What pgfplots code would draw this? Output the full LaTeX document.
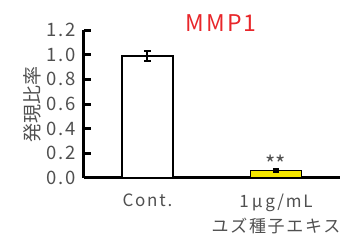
\documentclass[border=0pt]{standalone}
\usepackage{pgfplots}
\pgfplotsset{compat=1.18}
\usepackage{fontspec}
\setmainfont{Noto Sans CJK JP}
\newfontfamily\lat[LetterSpace=10]{Noto Sans CJK JP}
\definecolor{txt}{HTML}{505050}
\definecolor{ttl}{HTML}{E8262A}
\definecolor{yel}{HTML}{F5E800}
\begin{document}
\begin{tikzpicture}
\path[use as bounding box] (0pt,0pt) rectangle (341pt,244pt);
\begin{axis}[at={(84pt,66pt)}, anchor=south west, scale only axis,
  width=256pt, height=148pt,
  xmin=-0.494, xmax=1.498, ymin=0, ymax=1.2,
  axis x line=bottom, axis y line=left,
  axis line style={line width=3pt, -},
  ytick={0,0.2,0.4,0.6,0.8,1.0,1.2},
  yticklabel style={/pgf/number format/.cd, fixed, fixed zerofill, precision=1, /tikz/.cd, font=\lat\fontsize{18.5}{18}\selectfont, text=txt, xshift=-5pt},
  /pgf/number format/assume math mode=true,
  ytick style={line width=3pt, black},
  tick align=inside, major tick length=7pt,
  xtick={0,1}, xticklabels={Cont., {1\,μ\,g/mL\\ユズ種子エキス}},
  xticklabel style={align=center, font=\lat\fontsize{17}{25}\selectfont, text=txt, yshift=-12pt},
  x tick style={draw=none},
  ylabel={発現比率}, ylabel style={font=\fontsize{19}{19}\selectfont, text=txt, yshift=-2pt},
  clip=false,
]
\addplot[ybar, bar shift=0pt, bar width=0.397, fill=white, draw=black, line width=2.5pt,
  error bars/.cd, y dir=both, y explicit, error bar style={line width=2pt, black},
  error mark options={rotate=90, mark size=3.5pt, line width=2pt}]
  coordinates {(0,0.99) +- (0,0.04)};
\addplot[ybar, bar shift=0pt, bar width=0.397, fill=yel, draw=black, line width=1.5pt,
  error bars/.cd, y dir=both, y explicit, error bar style={line width=4pt, black},
  error mark options={rotate=90, mark size=3pt, line width=2pt}]
  coordinates {(1,0.06) +- (0,0.01)};
\node[font=\fontsize{22}{22}\selectfont, text=txt] at (axis cs:1,0.115) {**};
\end{axis}
\node[font=\lat\fontsize{23}{23}\selectfont, text=ttl] at (221pt,221pt) {MMP1};
\end{tikzpicture}
\end{document}
